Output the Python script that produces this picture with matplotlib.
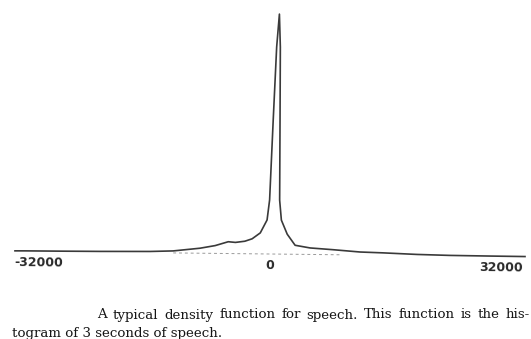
import matplotlib
matplotlib.use("Agg")
import matplotlib.pyplot as plt
from matplotlib.transforms import Affine2D

# Histogram of 3 seconds of speech (sample amplitude vs relative count)
amplitude = [-35300, -33900, -29100, -23500, -16600, -13400, -9700, -7600,
             -5800, -4800, -3500, -2500, -1380, -460, -140, 235, 600, 930,
             1110, 1180, 1250, 1520, 2350, 3460, 5540, 8720, 12460,
             15640, 20350, 24910, 30450, 35290]
density = [0.3, 0.4, 0.5, 0.7, 1.2, 2.0, 5.0, 7.8, 11.8, 11.2, 12.5, 15.0,
           21.0, 34.0, 54.0, 134.0, 207.0, 240.0, 207.0, 134.0, 54.0, 34.0,
           20.0, 9.0, 6.5, 5.0, 3.0, 2.4, 1.2, 0.6, 0.4, 0.3]

zero_line = [-13400, 9700]
tick_values = [-32000, 0, 32000]
tick_labels = ["-32000", "0", "32000"]

caption_1 = "A typical density function for speech.  This function is the his-"
caption_2 = "togram of 3 seconds of speech."

fig = plt.figure(figsize=(5.31, 3.39), dpi=100)
ax = fig.add_axes([0, 0, 1, 1])
ax.set_xlim(-37370, 36120)
ax.set_ylim(-85, 254)
ax.axis("off")

# the scanned page is slightly tilted
tr = ax.transData + Affine2D().rotate_deg_around(270, 85, -0.64)

ax.plot(zero_line, [0, 0], color="#9a9a9a", lw=0.7,
        linestyle=(0, (3, 3)), transform=tr)
ax.plot(amplitude, density, color="#3a3a3a", lw=1.2, transform=tr)

for v, lab in zip(tick_values, tick_labels):
    ax.text(v, -11.5, lab, transform=tr, ha="center", va="center",
            fontsize=9, fontweight="bold", color="#2a2a2a", rotation=-0.64)

# caption, first line justified between x=97 and x=530 px
cap_kw = dict(fontsize=9.6, family="DejaVu Serif", color="#151515",
              va="center", ha="left")
renderer = fig.canvas.get_renderer()
words = caption_1.split()
texts = [fig.text(0, 1 - 315 / 339, w, **cap_kw) for w in words]
widths = [t.get_window_extent(renderer).width for t in texts]
left, right = 97, 530
gap = (right - left - sum(widths)) / (len(words) - 1)
x = left
for t, w in zip(texts, widths):
    t.set_x(x / 531)
    x += w + gap

fig.text(12 / 531, 1 - 333 / 339, caption_2, **cap_kw)

fig.savefig("out.png", dpi=100, facecolor="white")
